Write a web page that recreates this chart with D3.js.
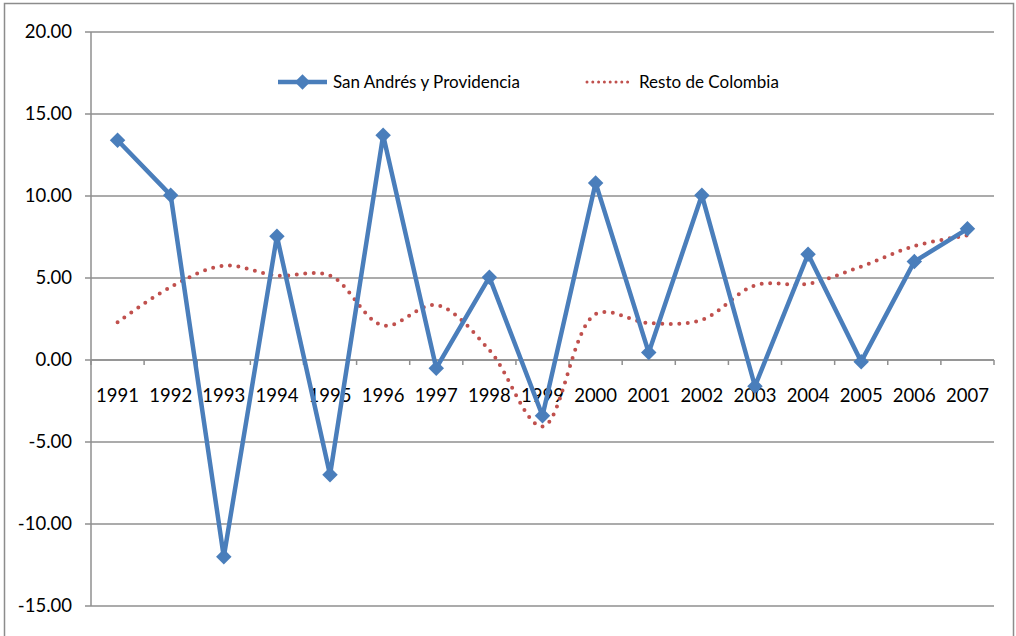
<!DOCTYPE html>
<html>
<head>
<meta charset="utf-8">
<script src="https://cdn.jsdelivr.net/npm/d3@7"></script>
<style>
  body { margin: 0; background: #fff; }
  text { font-family: Lato, "Noto Sans", sans-serif; fill: #000; }
</style>
</head>
<body>
<div id="container"></div>
<script>
var years = ["1991","1992","1993","1994","1995","1996","1997","1998","1999",
             "2000","2001","2002","2003","2004","2005","2006","2007"];
var sanAndres = [13.4, 10.05, -12.0, 7.55, -7.0, 13.7, -0.5, 5.05, -3.4,
                 10.8, 0.45, 10.05, -1.6, 6.45, -0.1, 6.0, 8.0];
var restoColombia = [2.3, 4.45, 5.75, 5.15, 5.15, 2.1, 3.35, 0.6, -4.05,
                     2.8, 2.25, 2.45, 4.55, 4.65, 5.7, 6.95, 7.6];
var yTicks = [20, 15, 10, 5, 0, -5, -10, -15];
var seriesNames = ["San Andrés y Providencia", "Resto de Colombia"];

var width = 1016, height = 636;
var plotLeft = 91, plotRight = 994, plotTop = 32, plotBottom = 606;

var svg = d3.select("#container")
  .append("svg")
  .attr("width", width)
  .attr("height", height);

// outer chart border (runs off the bottom)
svg.append("path")
  .attr("d", "M4.5,640 L4.5,3.5 L1013.5,3.5 L1013.5,640")
  .attr("fill", "none")
  .attr("stroke", "#8c8c8c")
  .attr("stroke-width", 1.5);

var x = d3.scaleBand()
  .domain(years)
  .range([plotLeft, plotRight]);

var y = d3.scaleLinear()
  .domain([-15, 20])
  .range([plotBottom, plotTop]);

// gridlines
svg.append("g")
  .selectAll("line")
  .data(yTicks)
  .enter()
  .append("line")
  .attr("x1", plotLeft - 6)
  .attr("x2", plotRight)
  .attr("y1", function(d) { return y(d); })
  .attr("y2", function(d) { return y(d); })
  .attr("stroke", "#8f8f8f")
  .attr("stroke-width", 1.5);

// y axis line
svg.append("line")
  .attr("x1", plotLeft).attr("x2", plotLeft)
  .attr("y1", plotTop).attr("y2", plotBottom)
  .attr("stroke", "#8f8f8f")
  .attr("stroke-width", 1.5);

// y labels
svg.append("g")
  .selectAll("text")
  .data(yTicks)
  .enter()
  .append("text")
  .attr("x", 72)
  .attr("y", function(d) { return y(d); })
  .attr("dy", "0.35em")
  .attr("text-anchor", "end")
  .style("font-size", "18.5px")
  .text(function(d) { return d.toFixed(2); });

// x axis at zero with tick marks between categories
var xAxis = svg.append("g");
xAxis.append("line")
  .attr("x1", plotLeft).attr("x2", plotRight)
  .attr("y1", y(0)).attr("y2", y(0))
  .attr("stroke", "#8f8f8f")
  .attr("stroke-width", 1.5);
xAxis.selectAll(".tk")
  .data(years.concat(["end"]))
  .enter()
  .append("line")
  .attr("x1", function(d, i) { return plotLeft + i * x.bandwidth(); })
  .attr("x2", function(d, i) { return plotLeft + i * x.bandwidth(); })
  .attr("y1", y(0))
  .attr("y2", y(0) + 5)
  .attr("stroke", "#8f8f8f")
  .attr("stroke-width", 1.5);
xAxis.selectAll("text")
  .data(years)
  .enter()
  .append("text")
  .attr("x", function(d) { return x(d) + x.bandwidth() / 2; })
  .attr("y", 402)
  .attr("text-anchor", "middle")
  .style("font-size", "18.5px")
  .text(function(d) { return d; });

var cx = function(d, i) { return x(years[i]) + x.bandwidth() / 2; };

// Resto de Colombia: smoothed dotted line
var smooth = d3.line()
  .x(cx)
  .y(function(d) { return y(d); })
  .curve(d3.curveCatmullRom.alpha(0.5));

svg.append("path")
  .datum(restoColombia)
  .attr("d", smooth)
  .attr("fill", "none")
  .attr("stroke", "#c0504d")
  .attr("stroke-width", 4)
  .attr("stroke-linecap", "round")
  .attr("stroke-dasharray", "0 8.5");

// San Andrés y Providencia
var straight = d3.line()
  .x(cx)
  .y(function(d) { return y(d); });

svg.append("path")
  .datum(sanAndres)
  .attr("d", straight)
  .attr("fill", "none")
  .attr("stroke", "#4a7ebb")
  .attr("stroke-width", 4.5)
  .attr("stroke-linejoin", "round");

var diamond = d3.symbol().type(d3.symbolSquare).size(120);

svg.append("g")
  .selectAll("path")
  .data(sanAndres)
  .enter()
  .append("path")
  .attr("d", diamond)
  .attr("transform", function(d, i) { return "translate(" + cx(d, i) + "," + y(d) + ") rotate(45)"; })
  .attr("fill", "#4a7ebb");

// legend
var legend = svg.append("g");
legend.append("line")
  .attr("x1", 278).attr("x2", 327)
  .attr("y1", 82).attr("y2", 82)
  .attr("stroke", "#4a7ebb")
  .attr("stroke-width", 4.5);
legend.append("path")
  .attr("d", diamond)
  .attr("transform", "translate(302.5,82) rotate(45)")
  .attr("fill", "#4a7ebb");
legend.append("text")
  .attr("x", 333).attr("y", 82)
  .attr("dy", "0.35em")
  .style("font-size", "17px")
  .text(seriesNames[0]);

legend.append("line")
  .attr("x1", 587).attr("x2", 633)
  .attr("y1", 82).attr("y2", 82)
  .attr("stroke", "#c0504d")
  .attr("stroke-width", 3)
  .attr("stroke-linecap", "round")
  .attr("stroke-dasharray", "0 5.8");
legend.append("text")
  .attr("x", 639).attr("y", 82)
  .attr("dy", "0.35em")
  .style("font-size", "17px")
  .text(seriesNames[1]);
</script>
</body>
</html>
